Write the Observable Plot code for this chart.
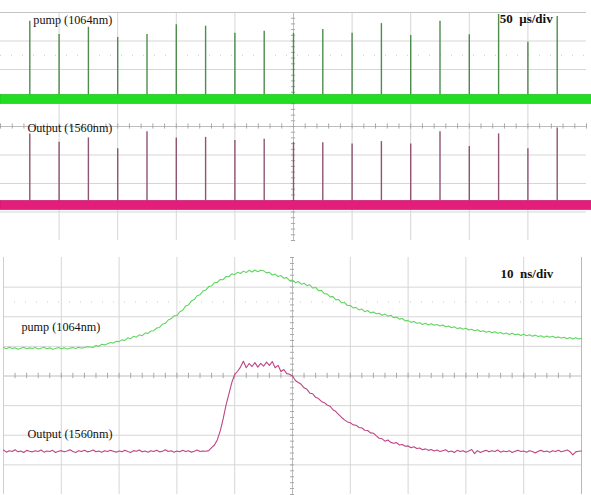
<!DOCTYPE html>
<html><head><meta charset="utf-8">
<script src="https://cdn.jsdelivr.net/npm/d3@7"></script>
<script src="https://cdn.jsdelivr.net/npm/@observablehq/plot@0.6"></script>
<style>
html,body{margin:0;padding:0;background:#fff;}
#wrap{width:591px;height:495px;position:relative;overflow:hidden;background:#fff;}
#wrap svg{display:block;}
</style></head><body><div id="wrap"></div>
<script>
// ---------- Top panel: pulse trains (50 µs/div, vertical in divisions) ----------
const pulseTimes = [25, 50, 75, 100, 125, 150, 175, 200, 225, 250, 275, 300, 325, 350, 375, 400, 425, 450, 475];
const pumpPeaks = [3.69, 3.23, 3.48, 3.12, 3.23, 3.57, 3.52, 3.27, 3.34, 3.27, 3.40, 3.27, 3.61, 3.19, 3.69, 3.22, 3.93, 2.96, 3.86];
const outputPeaks = [-0.26, -0.55, -0.40, -0.78, -0.18, -0.40, -0.38, -0.49, -0.45, -0.56, -0.57, -0.61, -0.53, -0.61, -0.18, -0.70, -0.26, -0.78, -0.05];
const pumpBand = [0.79, 1.11];     // noise band of the pump trace (div)
const outputBand = [-2.93, -2.61]; // noise band of the output trace (div)

// ---------- Bottom panel: single pulse shapes (10 ns/div, sample every 0.5 ns) ----------
const sampleStep = 0.5;
const pumpTrace = [
0.96,0.92,0.97,0.93,0.95,0.90,0.94,0.97,0.92,0.95,
0.93,0.96,0.91,0.94,0.97,0.92,0.95,0.90,0.93,0.96,
0.92,0.95,0.91,0.94,0.96,0.93,0.97,0.94,0.96,0.99,
0.98,0.96,1.03,1.00,1.07,1.05,1.09,1.13,1.11,1.17,
1.16,1.22,1.20,1.29,1.26,1.34,1.31,1.39,1.36,1.45,
1.44,1.52,1.53,1.62,1.64,1.75,1.78,1.89,1.93,2.03,
2.04,2.17,2.22,2.36,2.40,2.53,2.58,2.71,2.74,2.87,
2.90,3.02,3.04,3.15,3.16,3.26,3.25,3.36,3.35,3.45,
3.42,3.50,3.46,3.54,3.49,3.57,3.51,3.58,3.52,3.57,
3.55,3.48,3.50,3.41,3.44,3.36,3.39,3.30,3.32,3.22,
3.24,3.15,3.19,3.10,3.13,3.05,3.08,2.97,2.99,2.88,
2.89,2.78,2.77,2.67,2.68,2.57,2.58,2.47,2.48,2.38,
2.38,2.30,2.31,2.23,2.26,2.17,2.21,2.13,2.16,2.10,
2.12,2.05,2.09,2.02,2.05,1.97,1.99,1.92,1.94,1.86,
1.87,1.81,1.84,1.78,1.80,1.74,1.78,1.72,1.76,1.71,
1.74,1.69,1.72,1.66,1.69,1.63,1.66,1.60,1.63,1.58,
1.61,1.55,1.58,1.53,1.56,1.50,1.53,1.48,1.51,1.46,
1.49,1.44,1.47,1.42,1.45,1.40,1.44,1.39,1.42,1.37,
1.41,1.36,1.39,1.34,1.38,1.33,1.36,1.31,1.35,1.31,
1.34,1.29,1.32,1.28,1.31,1.26,1.30,1.25,1.29,1.25,
1.27];
const outputTrace = [
-2.50,-2.57,-2.52,-2.55,-2.49,-2.56,-2.53,-2.58,-2.51,-2.54,
-2.56,-2.52,-2.55,-2.50,-2.57,-2.53,-2.55,-2.51,-2.58,-2.54,
-2.52,-2.56,-2.53,-2.49,-2.55,-2.58,-2.52,-2.55,-2.51,-2.56,
-2.54,-2.50,-2.56,-2.53,-2.57,-2.52,-2.55,-2.51,-2.54,-2.57,
-2.53,-2.56,-2.51,-2.55,-2.58,-2.52,-2.54,-2.50,-2.56,-2.53,
-2.57,-2.52,-2.55,-2.51,-2.56,-2.54,-2.49,-2.55,-2.52,-2.57,
-2.53,-2.56,-2.51,-2.55,-2.52,-2.57,-2.54,-2.50,-2.55,-2.53,
-2.54,-2.52,-2.42,-2.33,-2.15,-1.85,-1.45,-0.98,-0.60,-0.22,
0.05,0.16,0.30,0.50,0.28,0.42,0.32,0.45,0.30,0.43,
0.33,0.47,0.36,0.49,0.28,0.36,0.15,0.22,0.08,0.06,
0.00,-0.15,-0.22,-0.28,-0.40,-0.45,-0.58,-0.60,-0.72,-0.76,
-0.86,-0.90,-0.98,-1.02,-1.14,-1.20,-1.30,-1.40,-1.48,-1.55,
-1.58,-1.65,-1.66,-1.74,-1.75,-1.83,-1.84,-1.92,-1.93,-2.02,
-2.10,-2.12,-2.20,-2.16,-2.24,-2.27,-2.25,-2.33,-2.31,-2.37,
-2.36,-2.42,-2.39,-2.45,-2.43,-2.49,-2.46,-2.51,-2.48,-2.53,
-2.50,-2.55,-2.52,-2.49,-2.56,-2.53,-2.58,-2.51,-2.55,-2.52,
-2.57,-2.53,-2.48,-2.62,-2.52,-2.58,-2.54,-2.51,-2.56,-2.52,
-2.55,-2.50,-2.57,-2.53,-2.56,-2.52,-2.58,-2.54,-2.51,-2.55,
-2.53,-2.57,-2.52,-2.55,-2.60,-2.54,-2.51,-2.56,-2.53,-2.57,
-2.52,-2.55,-2.51,-2.56,-2.53,-2.50,-2.55,-2.66,-2.56,-2.54,
-2.53];

// labels
const topLabels = [
  {x: 28, y: 3.73, text: "pump (1064nm)", bold: false},
  {x: 23, y: -0.05, text: "Output (1560nm)", bold: false},
  {x: 426, y: 3.77, text: "50\u00a0\u00a0μs/div", bold: true}
];
const bottomLabels = [
  {x: 3.1, y: 1.65, text: "pump (1064nm)", bold: false},
  {x: 4.15, y: -1.95, text: "Output (1560nm)", bold: false},
  {x: 86, y: 3.46, text: "10\u00a0\u00a0ns/div", bold: true}
];

const gridColor = "#d6d6d6";
const font = "'Liberation Serif', 'Times New Roman', serif";

function gridMarks(xMax, xDivs, xMinorStep, tickHalfX) {
  const xs = d3.range(1, 10).map(i => i * xDivs);
  const ys = [-3, -2, -1, 1, 2, 3];
  const minorX = d3.range(0, xMax + 1e-9, xMinorStep);
  const minorY = d3.range(-4, 4.0001, 0.2);
  return [
    Plot.ruleX(xs, {stroke: gridColor, strokeWidth: 1}),
    Plot.ruleY(ys, {stroke: gridColor, strokeWidth: 1}),
    Plot.ruleY([2.5], {stroke: "#c8c8c8", strokeWidth: 1, strokeDasharray: "1,10"}),
    Plot.ruleY([0], {stroke: "#bdbdbd", strokeWidth: 1}),
    Plot.ruleX([xMax / 2], {stroke: "#bdbdbd", strokeWidth: 1}),
    Plot.ruleX(minorX, {y1: -0.09, y2: 0.09, stroke: "#a8a8a8", strokeWidth: 1}),
    Plot.ruleY(minorY, {x1: xMax / 2 - tickHalfX, x2: xMax / 2 + tickHalfX, stroke: "#a8a8a8", strokeWidth: 1})
  ];
}

function labelMarks(labels) {
  return [
    Plot.text(labels.filter(d => !d.bold), {x: "x", y: "y", text: "text", textAnchor: "start",
      fontFamily: font, fontSize: 12.2, fill: "#111"}),
    Plot.text(labels.filter(d => d.bold), {x: "x", y: "y", text: "text", textAnchor: "start",
      fontFamily: font, fontSize: 13, fontWeight: "bold", fill: "#111"})
  ];
}

// ---------- top ----------
const pulses = pulseTimes.map((t, i) => ({t, pump: pumpPeaks[i], out: outputPeaks[i]}));
const topChart = Plot.plot({
  width: 591, height: 250,
  marginLeft: 0, marginRight: 5, marginTop: 12, marginBottom: 10,
  x: {domain: [0, 500], axis: null},
  y: {domain: [-4, 4], axis: null},
  style: {background: "#fff", overflow: "visible"},
  marks: [
    ...gridMarks(500, 50, 10, 1.8),
    Plot.ruleY([4], {stroke: "#c4c4c4", strokeWidth: 1}),
    Plot.ruleX(pulses, {x: "t", y1: pumpBand[1], y2: "pump", stroke: "#4e8c4e", strokeWidth: 1.4}),
    Plot.ruleX(pulses, {x: "t", y1: outputBand[1], y2: "out", stroke: "#8f5572", strokeWidth: 1.4}),
    Plot.rect([0], {x1: 0, x2: 505, y1: pumpBand[0], y2: pumpBand[1], fill: "#22dd22", stroke: "#18b818", strokeWidth: 0.6}),
    Plot.rect([0], {x1: 0, x2: 505, y1: outputBand[0], y2: outputBand[1], fill: "#e21d7c", stroke: "#c0146a", strokeWidth: 0.6}),
    ...labelMarks(topLabels)
  ]
});

// ---------- bottom ----------
const pumpPts = pumpTrace.map((v, i) => ({t: i * sampleStep, v}));
const outPts = outputTrace.map((v, i) => ({t: i * sampleStep, v}));
const bottomChart = Plot.plot({
  width: 591, height: 245,
  marginLeft: 3, marginRight: 10, marginTop: 7, marginBottom: 1,
  x: {domain: [0, 100], axis: null},
  y: {domain: [-4, 4], axis: null},
  style: {background: "#fff", overflow: "visible"},
  marks: [
    ...gridMarks(100, 10, 2, 0.35),
    Plot.ruleX([0], {stroke: "#cfcfcf", strokeWidth: 1}),
    Plot.ruleX([100], {stroke: "#b8b8b8", strokeWidth: 1}),
    Plot.line(pumpPts, {x: "t", y: "v", stroke: "#5fd65f", strokeWidth: 1.1}),
    Plot.line(outPts, {x: "t", y: "v", stroke: "#bd4584", strokeWidth: 1.1}),
    ...labelMarks(bottomLabels)
  ]
});

const wrap = document.getElementById("wrap");
wrap.appendChild(topChart);
wrap.appendChild(bottomChart);
</script>
</body></html>
